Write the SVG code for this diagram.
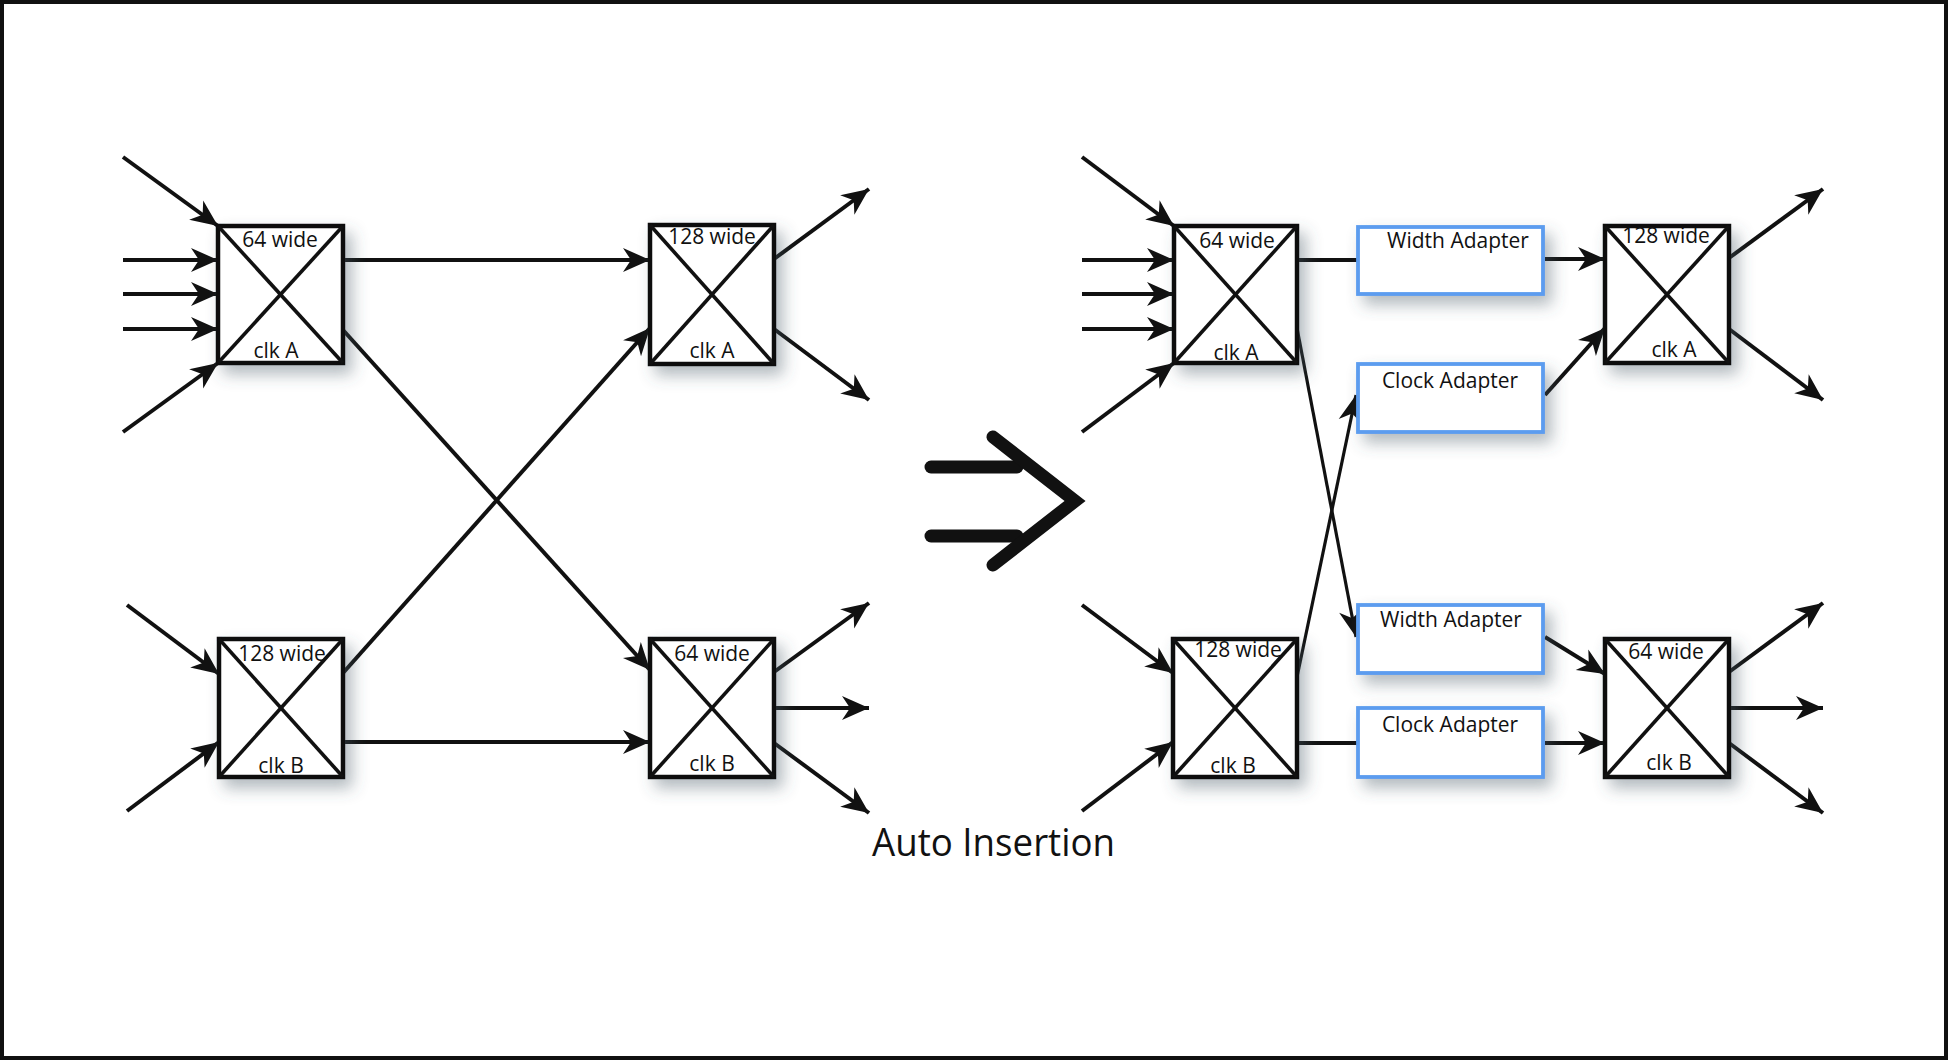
<svg xmlns="http://www.w3.org/2000/svg" width="1948" height="1060" viewBox="0 0 1948 1060">
<defs>
<style>
.box{fill:#fff;stroke:#111;stroke-width:4.5;filter:url(#sh)}
.xl{stroke:#111;stroke-width:3.6;fill:none}
.ad{fill:#fff;stroke:#5b9cef;stroke-width:3.8;filter:url(#sh)}
.lbl{font-family:"Open Sans","Liberation Sans",sans-serif;font-size:21px;fill:#111;text-anchor:middle}
.c{stroke:#111;stroke-width:3.8;fill:none}
.ca{stroke:#111;stroke-width:4;fill:none;marker-end:url(#ah)}
.ct{stroke:#111;stroke-width:3.2;fill:none;marker-end:url(#ah)}
.big{stroke:#111;stroke-width:13;fill:none;stroke-linecap:round;stroke-linejoin:miter}
</style>
<filter id="sh" x="-30%" y="-30%" width="170%" height="170%">
<feDropShadow dx="7" dy="9" stdDeviation="8" flood-color="#4a5a66" flood-opacity="0.42"/>
</filter>
<marker id="ah" viewBox="-29 -14 31 28" refX="0" refY="0" markerWidth="31" markerHeight="28" markerUnits="userSpaceOnUse" orient="auto">
<path d="M0,0 L-27,-12 L-19,0 L-27,12 Z" fill="#111"/>
</marker>
</defs>
<rect x="2" y="2" width="1944" height="1056" fill="#fff" stroke="#111" stroke-width="4"/>

<g id="connectors">
<line class="ca" x1="123" y1="157" x2="218" y2="226"/>
<line class="ca" x1="123" y1="260" x2="218" y2="260"/>
<line class="ca" x1="123" y1="294" x2="218" y2="294"/>
<line class="ca" x1="123" y1="329" x2="218" y2="329"/>
<line class="ca" x1="123" y1="432" x2="218" y2="363"/>
<line class="ca" x1="127" y1="605" x2="219" y2="674"/>
<line class="ca" x1="127" y1="811" x2="219" y2="742"/>
<line class="ca" x1="343" y1="260" x2="650" y2="260"/>
<line class="ca" x1="343" y1="330" x2="650" y2="670"/>
<line class="ca" x1="343" y1="673" x2="650" y2="328"/>
<line class="ca" x1="343" y1="742" x2="650" y2="742"/>
<line class="ca" x1="774" y1="259" x2="869" y2="189"/>
<line class="ca" x1="774" y1="329" x2="869" y2="400"/>
<line class="ca" x1="774" y1="672" x2="869" y2="603"/>
<line class="ca" x1="774" y1="708" x2="869" y2="708"/>
<line class="ca" x1="774" y1="743" x2="869" y2="813"/>
<line class="ca" x1="1082" y1="157" x2="1174" y2="226"/>
<line class="ca" x1="1082" y1="260" x2="1174" y2="260"/>
<line class="ca" x1="1082" y1="294" x2="1174" y2="294"/>
<line class="ca" x1="1082" y1="329" x2="1174" y2="329"/>
<line class="ca" x1="1082" y1="432" x2="1174" y2="363"/>
<line class="ca" x1="1082" y1="605" x2="1173" y2="673"/>
<line class="ca" x1="1082" y1="811" x2="1173" y2="742"/>
<line class="c" x1="1297" y1="260" x2="1358" y2="260"/>
<line class="ct" x1="1297" y1="328" x2="1356" y2="637"/>
<line class="ct" x1="1297" y1="677" x2="1356" y2="395"/>
<line class="c" x1="1297" y1="743" x2="1358" y2="743"/>
<line class="ca" x1="1545" y1="259" x2="1605" y2="259"/>
<line class="ca" x1="1545" y1="395" x2="1605" y2="328"/>
<line class="ca" x1="1545" y1="637" x2="1605" y2="674"/>
<line class="ca" x1="1545" y1="743" x2="1605" y2="743"/>
<line class="ca" x1="1729" y1="258" x2="1823" y2="189"/>
<line class="ca" x1="1729" y1="329" x2="1823" y2="400"/>
<line class="ca" x1="1729" y1="672" x2="1823" y2="603"/>
<line class="ca" x1="1729" y1="708" x2="1823" y2="708"/>
<line class="ca" x1="1729" y1="743" x2="1823" y2="813"/>
</g>

<g id="n-l-a">
<rect class="box" x="218" y="226" width="125" height="137"/>
<line class="xl" x1="218" y1="226" x2="343" y2="363"/>
<line class="xl" x1="343" y1="226" x2="218" y2="363"/>
<text class="lbl" x="280" y="247">64 wide</text>
<text class="lbl" x="276" y="358">clk A</text>
</g>
<g id="n-l-b">
<rect class="box" x="219" y="639" width="124" height="138"/>
<line class="xl" x1="219" y1="639" x2="343" y2="777"/>
<line class="xl" x1="343" y1="639" x2="219" y2="777"/>
<text class="lbl" x="282" y="661">128 wide</text>
<text class="lbl" x="281" y="773">clk B</text>
</g>
<g id="n-l-c">
<rect class="box" x="650" y="225" width="124" height="139"/>
<line class="xl" x1="650" y1="225" x2="774" y2="364"/>
<line class="xl" x1="774" y1="225" x2="650" y2="364"/>
<text class="lbl" x="712" y="244">128 wide</text>
<text class="lbl" x="712" y="358">clk A</text>
</g>
<g id="n-l-d">
<rect class="box" x="650" y="639" width="124" height="138"/>
<line class="xl" x1="650" y1="639" x2="774" y2="777"/>
<line class="xl" x1="774" y1="639" x2="650" y2="777"/>
<text class="lbl" x="712" y="661">64 wide</text>
<text class="lbl" x="712" y="771">clk B</text>
</g>

<g id="n-r-a">
<rect class="box" x="1174" y="226" width="123" height="137"/>
<line class="xl" x1="1174" y1="226" x2="1297" y2="363"/>
<line class="xl" x1="1297" y1="226" x2="1174" y2="363"/>
<text class="lbl" x="1237" y="248">64 wide</text>
<text class="lbl" x="1236" y="360">clk A</text>
</g>
<g id="n-r-b">
<rect class="box" x="1173" y="639" width="124" height="138"/>
<line class="xl" x1="1173" y1="639" x2="1297" y2="777"/>
<line class="xl" x1="1297" y1="639" x2="1173" y2="777"/>
<text class="lbl" x="1238" y="657">128 wide</text>
<text class="lbl" x="1233" y="773">clk B</text>
</g>
<g id="n-r-c">
<rect class="box" x="1605" y="226" width="124" height="137"/>
<line class="xl" x1="1605" y1="226" x2="1729" y2="363"/>
<line class="xl" x1="1729" y1="226" x2="1605" y2="363"/>
<text class="lbl" x="1666" y="243">128 wide</text>
<text class="lbl" x="1674" y="357">clk A</text>
</g>
<g id="n-r-d">
<rect class="box" x="1605" y="639" width="124" height="138"/>
<line class="xl" x1="1605" y1="639" x2="1729" y2="777"/>
<line class="xl" x1="1729" y1="639" x2="1605" y2="777"/>
<text class="lbl" x="1666" y="659">64 wide</text>
<text class="lbl" x="1669" y="770">clk B</text>
</g>

<g id="wa1">
<rect class="ad" x="1358" y="227" width="185" height="67"/>
<text class="lbl" x="1458" y="248">Width Adapter</text>
</g>
<g id="ca1">
<rect class="ad" x="1358" y="364" width="185" height="68"/>
<text class="lbl" x="1450" y="388">Clock Adapter</text>
</g>
<g id="wa2">
<rect class="ad" x="1358" y="605" width="185" height="68"/>
<text class="lbl" x="1451" y="627">Width Adapter</text>
</g>
<g id="ca2">
<rect class="ad" x="1358" y="708" width="185" height="69"/>
<text class="lbl" x="1450" y="732">Clock Adapter</text>
</g>

<g id="transform-arrow">
<line class="big" x1="931" y1="467" x2="1017" y2="467"/>
<line class="big" x1="931" y1="536" x2="1017" y2="536"/>
<polyline class="big" points="993,437 1075,501 993,565"/>
</g>

<text x="872" y="856" font-family="'Open Sans','Liberation Sans',sans-serif" font-size="38" fill="#111" textLength="243" lengthAdjust="spacingAndGlyphs">Auto Insertion</text>
</svg>
